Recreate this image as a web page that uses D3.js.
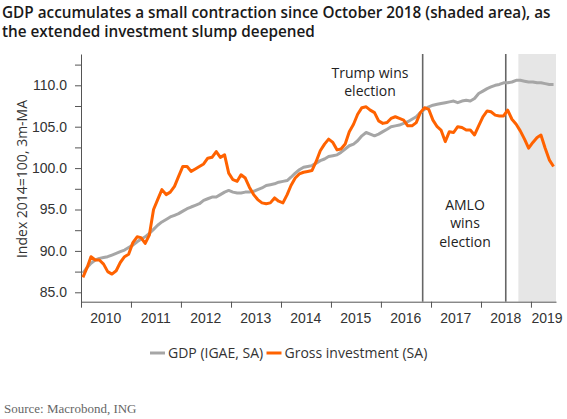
<!DOCTYPE html>
<meta charset="utf-8">
<style>
body { margin: 0; background: #fff; }
svg { font-family: "Open Sans", sans-serif; }
.axis text { font-size: 14px; fill: #333; }
.axis path, .axis line { stroke: #555; }
</style>
<svg width="567" height="419"></svg>
<script src="https://d3js.org/d3.v7.min.js"></script>
<script>

// monthly values, Jan 2010 .. Jun 2019 (3m moving average, 2014=100)
var gdp = [
 87.3, 88.0, 88.5, 88.9, 89.1, 89.2, 89.3, 89.5, 89.7, 89.9, 90.1, 90.4,
 90.7, 91.1, 91.4, 91.7, 92.1, 92.6, 93.1, 93.5, 93.8, 94.1, 94.3, 94.5,
 94.8, 95.1, 95.3, 95.5, 95.7, 96.1, 96.3, 96.5, 96.5, 96.8, 97.1, 97.3,
 97.1, 97.0, 97.0, 97.1, 97.1, 97.2, 97.4, 97.6, 97.9, 98.0, 98.1, 98.3,
 98.4, 98.5, 98.9, 99.4, 99.8, 100.1, 100.2, 100.3, 100.6, 100.9, 101.1, 101.4,
 101.5, 101.6, 101.9, 102.3, 102.7, 102.9, 103.3, 103.9, 104.3, 104.1, 103.9, 104.1,
 104.4, 104.7, 105.0, 105.1, 105.2, 105.4, 105.6, 105.9, 106.2, 106.7, 107.1, 107.4,
 107.6, 107.7, 107.8, 107.9, 108.0, 108.1, 107.9, 108.1, 108.2, 108.1, 108.4, 109.0,
 109.3, 109.6, 109.8, 110.0, 110.1, 110.3, 110.3, 110.4, 110.6, 110.6, 110.5, 110.4,
 110.4, 110.3, 110.3, 110.2, 110.1, 110.1
];

var investment = [
 86.8, 88.0, 89.3, 88.9, 88.9, 88.4, 87.5, 87.2, 87.6, 88.6, 89.3, 89.6,
 91.0, 91.7, 91.6, 90.9, 91.9, 95.0, 96.2, 97.4, 96.8, 97.1, 97.8, 99.0,
 100.2, 100.2, 99.6, 99.9, 100.2, 100.5, 101.2, 101.3, 102.0, 101.3, 101.6, 99.4,
 98.6, 98.4, 99.2, 98.8, 97.7, 96.8, 96.2, 95.8, 95.7, 95.8, 96.4, 96.0,
 95.8, 96.8, 97.9, 98.8, 99.3, 99.5, 99.6, 99.7, 100.8, 102.1, 102.9, 103.5,
 103.1, 102.2, 102.3, 102.9, 104.4, 105.3, 106.5, 107.3, 107.4, 107.0, 106.7, 105.7,
 105.4, 105.5, 106.0, 106.2, 106.0, 105.8, 105.1, 105.1, 105.5, 106.7, 107.3, 107.1,
 105.8, 105.0, 104.6, 103.2, 104.4, 104.3, 105.0, 104.9, 104.6, 104.6, 104.0, 105.1,
 106.2, 106.9, 106.8, 106.4, 106.3, 106.3, 107.0, 105.9, 105.3, 104.5, 103.5, 102.4,
 103.1, 103.7, 104.0, 102.4, 101.0, 100.2
];

var years = [2010, 2011, 2012, 2013, 2014, 2015, 2016, 2017, 2018, 2019];
var yTicks = [85, 87.5, 90, 92.5, 95, 97.5, 100, 102.5, 105, 107.5, 110, 112.5];

var events = [
  {date: new Date(2016, 10, 1), lines: ["Trump wins", "election"], lx: 370, ly: 78},
  {date: new Date(2018, 6, 1), lines: ["AMLO", "wins", "election"], lx: 465, ly: 210}
];
var shadeStart = new Date(2018, 9, 1);

var seriesNames = ["GDP (IGAE, SA)", "Gross investment (SA)"];
var colors = ["#a6a6a6", "#ff6200"];

var svg = d3.select("svg");

var plotL = 81, plotR = 556, plotT = 54, plotB = 301.7;

var x = d3.scaleTime()
    .domain([new Date(2010, 0, 1), new Date(2019, 6, 3)])
    .range([plotL, plotR]);

var y = d3.scaleLinear()
    .domain([83.865, 113.78])
    .range([plotB, plotT]);

var dates = gdp.map(function(d, i) { return new Date(2010, i, 15); });

// shaded area since Oct 2018
svg.append("rect")
    .attr("x", x(shadeStart))
    .attr("y", plotT)
    .attr("width", plotR - x(shadeStart))
    .attr("height", plotB - plotT)
    .attr("fill", "#e6e6e6");

// title
svg.append("text")
    .attr("x", 2).attr("y", 18)
    .attr("font-size", 15.3).attr("font-weight", 600).attr("fill", "#1a1a1a")
    .selectAll("tspan")
    .data(["GDP accumulates a small contraction since October 2018 (shaded area), as",
           "the extended investment slump deepened"])
    .enter().append("tspan")
    .attr("x", 2)
    .attr("dy", function(d, i) { return i ? 18.5 : 0; })
    .text(function(d) { return d; });

// y axis
svg.append("g")
    .attr("class", "axis")
    .attr("transform", "translate(" + plotL + ",0)")
    .call(d3.axisLeft(y).tickValues(yTicks).tickSize(6).tickSizeOuter(0)
      .tickFormat(function(d) { return d % 5 === 0 ? d3.format(".1f")(d) : ""; }))
    .call(function(g) { g.selectAll("text").attr("dx", "-5"); });

svg.append("text")
    .attr("transform", "translate(27,179) rotate(-90)")
    .attr("text-anchor", "middle")
    .attr("font-size", 14).attr("fill", "#333")
    .text("Index 2014=100, 3m-MA");

// x axis
var xa = svg.append("g")
    .attr("class", "axis")
    .attr("transform", "translate(0," + plotB + ")")
    .call(d3.axisBottom(x)
      .tickValues(years.map(function(d) { return new Date(d, 0, 1); }))
      .tickSize(6).tickSizeOuter(0).tickFormat(""));

xa.selectAll(".yr")
    .data(years)
    .enter().append("text")
    .attr("class", "yr")
    .attr("x", function(d) {
      return Math.min(x(new Date(d, 6, 1)), 547);
    })
    .attr("y", 21)
    .attr("text-anchor", "middle")
    .attr("fill", "#333")
    .text(function(d) { return d; });

// event lines
events.forEach(function(e) {
  svg.append("line")
      .attr("x1", x(e.date)).attr("x2", x(e.date))
      .attr("y1", plotT).attr("y2", plotB)
      .attr("stroke", "#666").attr("stroke-width", 1.6);
  svg.append("text")
      .attr("text-anchor", "middle")
      .attr("font-size", 14).attr("fill", "#222")
      .selectAll("tspan")
      .data(e.lines)
      .enter().append("tspan")
      .attr("x", e.lx)
      .attr("y", function(d, i) { return e.ly + i * 18.3; })
      .text(function(d) { return d; });
});

// lines
var line = d3.line()
    .x(function(d, i) { return x(dates[i]); })
    .y(function(d) { return y(d); });

[gdp, investment].forEach(function(s, k) {
  svg.append("path")
      .datum(s)
      .attr("fill", "none")
      .attr("stroke", colors[k])
      .attr("stroke-width", 3)
      .attr("stroke-linejoin", "round")
      .attr("d", line);
});

// legend
var legX = [150, 266.5];
seriesNames.forEach(function(n, k) {
  svg.append("line")
      .attr("x1", legX[k]).attr("x2", legX[k] + 15)
      .attr("y1", 353).attr("y2", 353)
      .attr("stroke", colors[k]).attr("stroke-width", 3);
  svg.append("text")
      .attr("x", legX[k] + 18).attr("y", 358)
      .attr("font-size", 14).attr("fill", "#333")
      .text(n);
});

// source
svg.append("text")
    .attr("x", 4).attr("y", 413)
    .attr("font-family", "'Liberation Serif', serif")
    .attr("font-size", 13).attr("fill", "#666")
    .text("Source: Macrobond, ING");

</script>
